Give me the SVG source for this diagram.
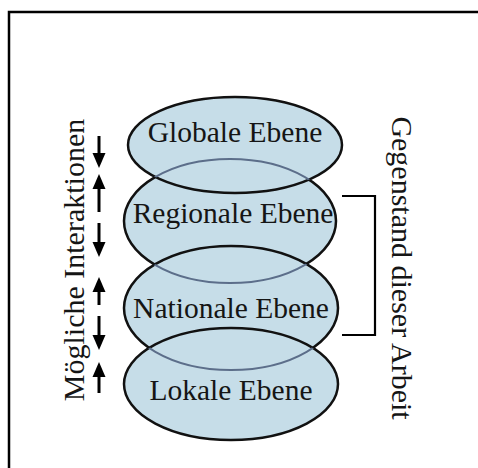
<svg xmlns="http://www.w3.org/2000/svg" width="478" height="468" viewBox="0 0 478 468">
<style>
.ell{fill:#c6dde8;stroke:#111;stroke-width:2.5}
.hid{fill:none;stroke:#5c6e8a;stroke-width:2}
.lbl{font-family:"Liberation Serif","Times New Roman",serif;font-size:29.5px;fill:#151515;text-anchor:middle}
.side{font-family:"Liberation Serif","Times New Roman",serif;font-size:30px;fill:#151515;text-anchor:middle}
.arr{stroke:#000;stroke-width:3;fill:none}
.head{fill:#000}
</style>
<defs>
<clipPath id="cG"><ellipse cx="235" cy="145" rx="107" ry="48"/></clipPath>
<clipPath id="cN"><ellipse cx="231" cy="308" rx="107" ry="62"/></clipPath>
<clipPath id="cL"><ellipse cx="231" cy="384" rx="107" ry="56"/></clipPath>
</defs>
<rect width="478" height="468" fill="#fff"/>
<path d="M9,468 V12 H478" fill="none" stroke="#000" stroke-width="2.5"/>

<g id="regionale">
<ellipse class="ell" cx="230" cy="221" rx="106" ry="62"/>
</g>
<g id="globale">
<ellipse class="ell" cx="235" cy="145" rx="107" ry="48"/>
<text class="lbl" x="235" y="142">Globale Ebene</text>
</g>
<g id="nationale">
<ellipse class="ell" cx="231" cy="308" rx="107" ry="62"/>
</g>
<g id="lokale">
<ellipse class="ell" cx="231" cy="384" rx="107" ry="56"/>
<text class="lbl" x="231" y="400">Lokale Ebene</text>
</g>
<g id="hidden-edges">
<ellipse class="hid" cx="230" cy="221" rx="106" ry="62" clip-path="url(#cG)"/>
<ellipse class="hid" cx="230" cy="221" rx="106" ry="62" clip-path="url(#cN)"/>
<ellipse class="hid" cx="231" cy="308" rx="107" ry="62" clip-path="url(#cL)"/>
</g>
<g id="labels-mid">
<text class="lbl" x="233" y="223">Regionale Ebene</text>
<text class="lbl" x="231" y="318">Nationale Ebene</text>
</g>

<g id="connectors">
<line class="arr" x1="99" y1="136" x2="99" y2="155"/>
<polygon class="head" points="92.5,153 105.5,153 99,168"/>
<line class="arr" x1="99" y1="212" x2="99" y2="187"/>
<polygon class="head" points="92.5,189 105.5,189 99,174"/>
<line class="arr" x1="99" y1="223" x2="99" y2="244"/>
<polygon class="head" points="92.5,242 105.5,242 99,257"/>
<line class="arr" x1="99" y1="305" x2="99" y2="290"/>
<polygon class="head" points="92.5,292 105.5,292 99,277"/>
<line class="arr" x1="99" y1="316" x2="99" y2="337"/>
<polygon class="head" points="92.5,335 105.5,335 99,350"/>
<line class="arr" x1="99" y1="393" x2="99" y2="375"/>
<polygon class="head" points="92.5,377 105.5,377 99,362"/>
<path d="M342,196 H375 V335 H342" fill="none" stroke="#000" stroke-width="2.2"/>
</g>

<g id="side-labels">
<text class="side" transform="translate(84,260) rotate(-90)">Mögliche Interaktionen</text>
<text class="side" transform="translate(392,268) rotate(90)">Gegenstand dieser Arbeit</text>
</g>
</svg>
